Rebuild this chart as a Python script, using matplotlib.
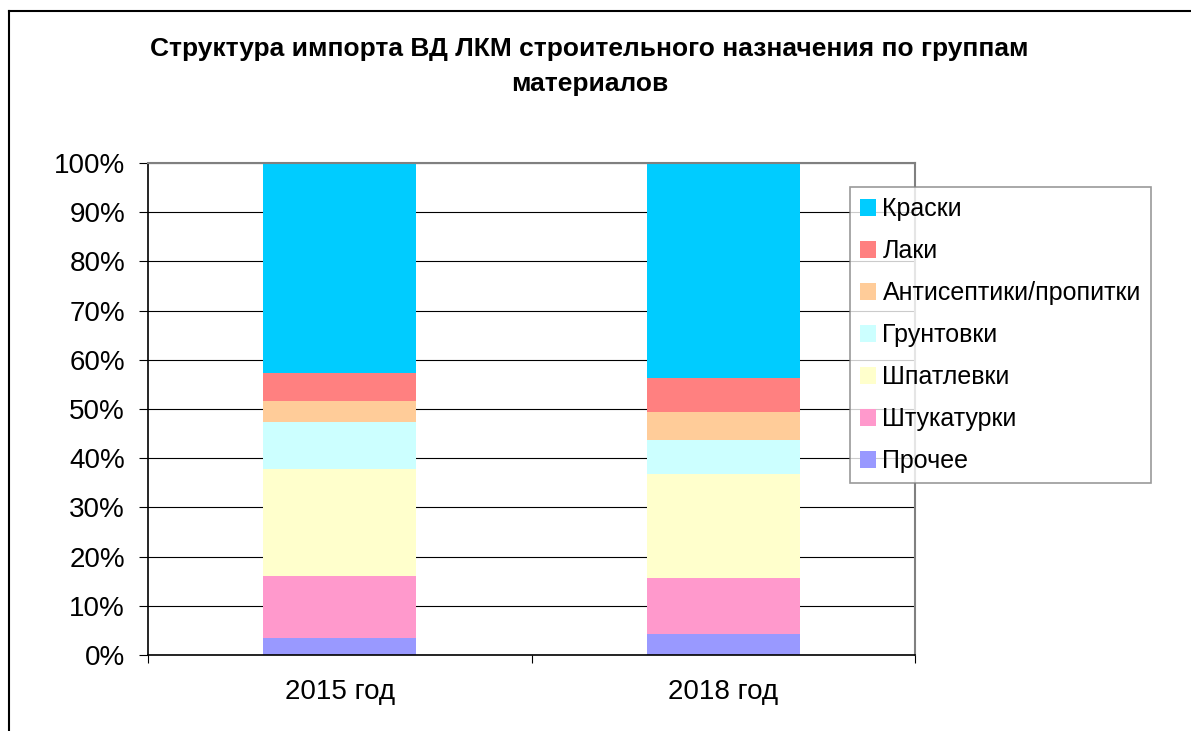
import numpy as np
import matplotlib.pyplot as plt
from matplotlib.lines import Line2D
from matplotlib.ticker import PercentFormatter

plt.rcParams['font.family'] = ['Liberation Sans', 'DejaVu Sans']

# Data (shares, %), stacked bottom -> top
years = ['2015 год', '2018 год']
groups = ['Прочее', 'Штукатурки', 'Шпатлевки', 'Грунтовки',
          'Антисептики/пропитки', 'Лаки', 'Краски']
prochee = [3.5, 4.3]
shtukaturki = [12.5, 11.3]
shpatlevki = [21.9, 21.1]
gruntovki = [9.4, 6.9]
antiseptiki = [4.4, 5.7]
laki = [5.7, 6.9]
kraski = [42.6, 43.8]
colors = ['#9999FF', '#FF99CC', '#FFFFCC', '#CCFFFF',
          '#FFCC99', '#FF8080', '#00CCFF']

values = [prochee, shtukaturki, shpatlevki, gruntovki, antiseptiki, laki, kraski]

fig = plt.figure(figsize=(11.91, 7.31), dpi=100)
ax = fig.add_axes([148 / 1191, 1 - 655 / 731, (915 - 148) / 1191, (655 - 163) / 731])

x = np.arange(len(years))
bottom = np.zeros(len(years))
handles = []
for name, vals, c in zip(groups, values, colors):
    vals = np.array(vals, dtype=float)
    b = ax.bar(x, vals, width=0.4, bottom=bottom, color=c, label=name, zorder=2)
    handles.append(b)
    bottom += vals

ax.set_xlim(-0.5, 1.5)
ax.set_ylim(0, 100)
ax.set_yticks(np.arange(0, 101, 10))
ax.yaxis.set_major_formatter(PercentFormatter(decimals=0))
ax.grid(axis='y', color='black', linewidth=0.8, zorder=0)
ax.tick_params(axis='y', labelsize=20, length=6.5, width=0.8, pad=10)

ax.set_xticks(x)
ax.set_xticklabels(years)
ax.set_xticks([-0.5, 0.5, 1.5], minor=True)
ax.tick_params(axis='x', which='major', length=0, labelsize=20, pad=17)
ax.tick_params(axis='x', which='minor', length=6, width=0.8)

for s in ['top', 'right']:
    ax.spines[s].set_color('#808080')
    ax.spines[s].set_linewidth(1.5)
ax.spines['left'].set_linewidth(1.2)
ax.spines['bottom'].set_linewidth(1.2)

fig.text(0.495, 1 - 49 / 731, 'Структура импорта ВД ЛКМ строительного назначения по группам',
         ha='center', va='center', fontsize=19, fontweight='bold')
fig.text(0.495, 1 - 84 / 731, 'материалов',
         ha='center', va='center', fontsize=19, fontweight='bold')

leg = fig.legend(handles[::-1], groups[::-1], loc='upper left',
                 bbox_to_anchor=(850 / 1191, 1 - 187 / 731), borderaxespad=0,
                 fancybox=False, edgecolor='#808080', fontsize=18,
                 handlelength=0.65, handleheight=0.65, handletextpad=0.25,
                 labelspacing=0.72, borderpad=0.4)
leg.get_frame().set_linewidth(1.2)

# outer chart frame (left and top edges)
fig.add_artist(Line2D([9 / 1191, 9 / 1191], [0, 1 - 11 / 731], color='black', linewidth=1.5))
fig.add_artist(Line2D([9 / 1191, 1], [1 - 11 / 731, 1 - 11 / 731], color='black', linewidth=1.5))

fig.savefig('out.png', dpi=100)
